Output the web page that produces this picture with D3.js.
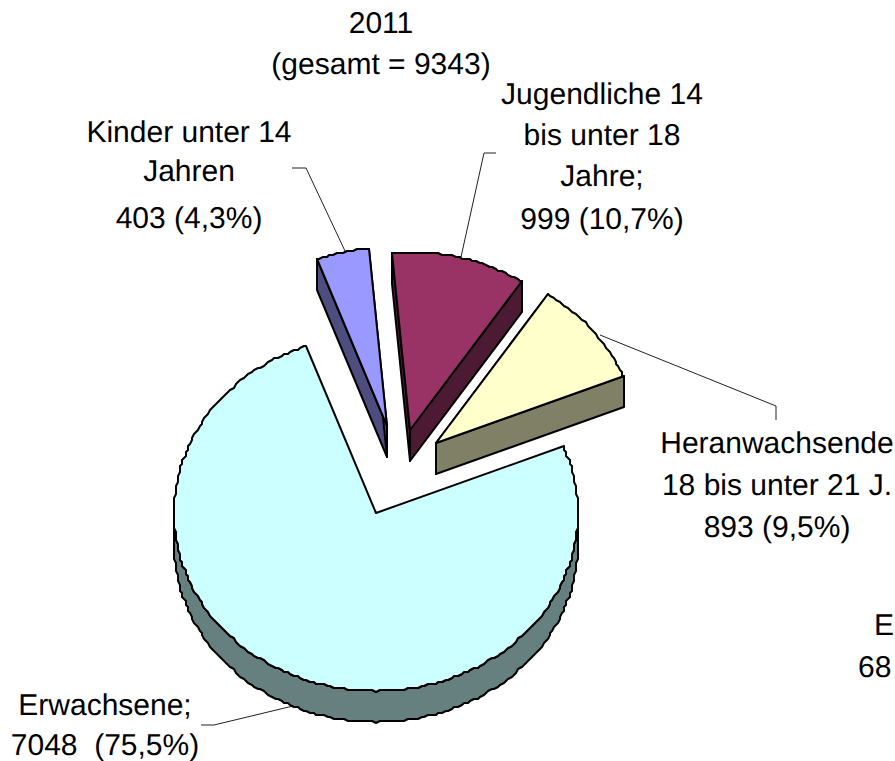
<!DOCTYPE html>
<html><head><meta charset="utf-8">
<script src="https://cdn.jsdelivr.net/npm/d3@7/dist/d3.min.js"></script>
<style>html,body{margin:0;padding:0;background:#fff;overflow:hidden}svg{display:block}text{font-family:"Liberation Sans",Arial,sans-serif;font-size:30px;fill:#000;text-rendering:geometricPrecision;white-space:pre}</style>
</head><body><svg id="c" width="895" height="761"></svg>
<script>
const categories = ["Erwachsene", "Kinder unter 14 Jahren", "Jugendliche 14 bis unter 18 Jahre", "Heranwachsende 18 bis unter 21 J."];
const values = [7048, 403, 999, 893];
const topColors = ["#CCFFFF", "#9999FF", "#993366", "#FFFFCC"];
const wallColors = ["#668080", "#4D4D80", "#4D1A33", "#808066"];
const explodeX = [0, 11, 34, 60];
const explodeY = [0, -87, -83, -70];
const leaders = [
  [[201,725],[214,725],[293,706]],
  [[292,168],[306,168],[345,251]],
  [[496,153],[484,153],[461,257]],
  [[600,335],[776,406],[776,420]]
];
const labelTexts = [
  {x:105, lines:["Erwachsene;","7048  (75,5%)"], y:[715,755]},
  {x:189, lines:["Kinder unter 14","Jahren","403 (4,3%)"], y:[142,181,228]},
  {x:602, lines:["Jugendliche 14","bis unter 18","Jahre;","999 (10,7%)"], y:[104,145,186,229]},
  {x:777, lines:["Heranwachsende","18 bis unter 21 J.","893 (9,5%)"], y:[453,495,537]},
  {x:381, lines:["2011","(gesamt = 9343)"], y:[33,74]}
];
const clipped = [{x:874,y:635,s:"E"},{x:858,y:677,s:"68"}];

const deg = Math.PI/180, startDeg = 68, depth = 31;
const x = d3.scaleLinear().domain([-1,1]).range([174,578]);
const y = d3.scaleLinear().domain([-1,1]).range([335,691]);
const pie = d3.pie().sort(null).startAngle(startDeg*deg).endAngle((startDeg+360)*deg)(values);
const svg = d3.select("#c");
const line = d3.line();
const snap = v => Math.round(v/2)*2;
const pt = a => [snap(x(Math.sin(a))), snap(y(-Math.cos(a)))];
const centre = [x(0), y(0)];
const arcPts = (a0,a1) => d3.range(a0, a1, 1*deg).concat([a1]).map(pt);
const shift = (pts,dy) => pts.map(p => [p[0], p[1]+dy]);
function poly(g,pts,fill){ g.append("path").attr("d",line(pts)+"Z").attr("fill",fill).attr("stroke","#000").attr("stroke-width",2).attr("stroke-linejoin","round"); }

leaders.forEach(l => svg.append("path").attr("d",line(l)).attr("fill","none").attr("stroke","#222").attr("stroke-width",1));

pie.forEach((s,i) => {
  const g = svg.append("g").attr("transform",`translate(${explodeX[i]},${explodeY[i]})`);
  const rim = arcPts(s.startAngle,s.endAngle);
  const first = pt(s.startAngle), last = pt(s.endAngle);
  const r0 = Math.max(s.startAngle,90*deg), r1 = Math.min(s.endAngle,270*deg);
  if (r0 < r1) { const a = arcPts(r0,r1); poly(g,a.concat(shift(a,depth).reverse()),wallColors[i]); }
  if (i>0) {
    [first,last].forEach(p => poly(g,[centre,p,[p[0],p[1]+depth],[centre[0],centre[1]+depth]],wallColors[i]));
  }
  poly(g,[centre].concat(rim),topColors[i]);
});

labelTexts.forEach(l => l.lines.forEach((t,j) =>
  svg.append("text").attr("x",l.x).attr("y",l.y[j]).attr("text-anchor","middle").text(t)));
clipped.forEach(c => svg.append("text").attr("x",c.x).attr("y",c.y).text(c.s));
</script></body></html>
